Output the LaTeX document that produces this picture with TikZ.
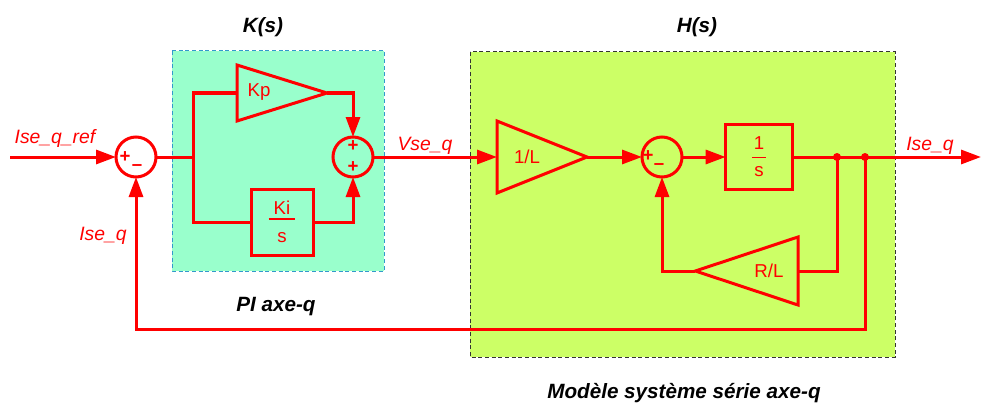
\documentclass[tikz,border=0pt]{standalone}
\usepackage{fontspec}
\setmainfont{Liberation Sans}
\usetikzlibrary{arrows.meta,positioning,shapes.geometric}
\definecolor{Sig}{HTML}{FF0000}
\definecolor{PIfill}{HTML}{99FFCC}
\definecolor{PIedge}{HTML}{3399CC}
\definecolor{Hfill}{HTML}{CCFF66}
\definecolor{Hedge}{HTML}{333333}
\definecolor{Ink}{HTML}{000000}

\begin{document}
\begin{tikzpicture}[x=0.75pt,y=-0.75pt,
  wire/.style={Sig,line width=2.25pt},
  sig/.style={wire,-{Triangle[length=15pt,width=10.5pt]}},
  sumnode/.style={circle,draw=Sig,line width=2.25pt,minimum size=30pt,inner sep=0pt,outer sep=0pt},
  ampl/.style={isosceles triangle,isosceles triangle stretches,draw=Sig,line width=2.25pt,inner sep=0pt,outer sep=0pt},
  tfbox/.style={rectangle,draw=Sig,line width=2.25pt,inner sep=0pt,outer sep=0pt,align=center,text=Sig,font=\fontsize{14}{14}\selectfont},
  gaintxt/.style={text=Sig,font=\fontsize{14}{16}\selectfont,inner sep=0pt},
  sgn/.style={text=Sig,font=\fontsize{14}{14}\selectfont\bfseries,inner sep=0pt},
  lbl/.style={text=Sig,font=\fontsize{14.5}{16}\selectfont\itshape,anchor=base,inner sep=0pt},
  ttl/.style={text=Ink,font=\fontsize{15.5}{17}\selectfont\bfseries\itshape,anchor=base,inner sep=0pt}]
  \useasboundingbox (0,0) rectangle (981,403);
  % backgrounds
  \filldraw[fill=PIfill,draw=PIedge,line width=0.75pt,dash pattern=on 3pt off 2pt] (172,51) rectangle (384,271);
  \filldraw[fill=Hfill,draw=Hedge,line width=0.75pt,dash pattern=on 3pt off 2pt] (470,52) rectangle (895,357);
  % blocks
  \node[sumnode] (sumA) at (136,157) {};
  \node[sumnode] (sumB) at (353,157) {};
  \node[sumnode] (sumC) at (662,157) {};
  \node[ampl,minimum height=67.5pt,minimum width=42pt,anchor=lower side] (kp) at (237,93) {};
  \node[gaintxt] (kplab) at (259,92) {Kp};
  \node[tfbox,minimum width=46.5pt,minimum height=49.5pt] (ki) at (282,222) {Ki\\[-10.25pt]\rule{20pt}{1.5pt}\\[3.25pt]s};
  \node[ampl,minimum height=67.5pt,minimum width=54pt,anchor=lower side] (gl) at (497,157) {};
  \node[gaintxt] (gllab) at (527,157) {1/L};
  \node[tfbox,minimum width=50pt,minimum height=49pt] (integ) at (759,157) {1\\[-7.8pt]\rule{10pt}{0.75pt}\\[0pt]s};
  \node[ampl,shape border rotate=180,minimum height=77pt,minimum width=51pt,anchor=lower side] (rl) at (798,271) {};
  \node[gaintxt] (rllab) at (769,271) {R/L};
  \coordinate (inp) at (10,157);
  \coordinate (pibr) at (193,157);
  \coordinate (d1) at (837,157);
  \coordinate (d2) at (865,157);
  \coordinate (out) at (981,157);
  \coordinate (fbbot) at (136,329);
  % signs
  \node[sgn] at (125,157) {+};
  \node[sgn] at (137,168) {–};
  \node[sgn] at (353,146) {+};
  \node[sgn] at (353,167) {+};
  \node[sgn] at (648,156) {+};
  \node[sgn] at (659,167) {–};
  % connectors
  \draw[sig] (inp) -- (sumA.west);
  \draw[wire] (sumA.east) -- (pibr);
  \draw[wire] (kp.lower side) -| (pibr) |- (ki.west);
  \draw[sig] (kp.apex) -| (sumB.north);
  \draw[sig] (ki.east) -| (sumB.south);
  \draw[sig] (sumB.east) -- (gl.lower side);
  \draw[sig] (gl.apex) -- (sumC.west);
  \draw[sig] (sumC.east) -- (integ.west);
  \draw[wire] (integ.east) -- (d1) -- (d2);
  \draw[sig] (d2) -- (out);
  \draw[wire] (d1) |- (rl.lower side);
  \draw[sig] (rl.apex) -| (sumC.south);
  \draw[sig] (d2) |- (fbbot) -- (sumA.south);
  \foreach \d in {d1,d2}
    \fill[Sig] (\d) circle (3pt);
  % labels
  \node[lbl] at (55,143) {Ise\_q\_ref};
  \node[lbl] at (103,240) {Ise\_q};
  \node[lbl] at (425,150) {Vse\_q};
  \node[lbl] at (930,150) {Ise\_q};
  \node[ttl] at (263,33) {K(s)};
  \node[ttl] at (697,33) {H(s)};
  \node[ttl] at (276,311) {PI axe-q};
  \node[ttl] at (684,398) {Modèle système série axe-q};
\end{tikzpicture}
\end{document}
